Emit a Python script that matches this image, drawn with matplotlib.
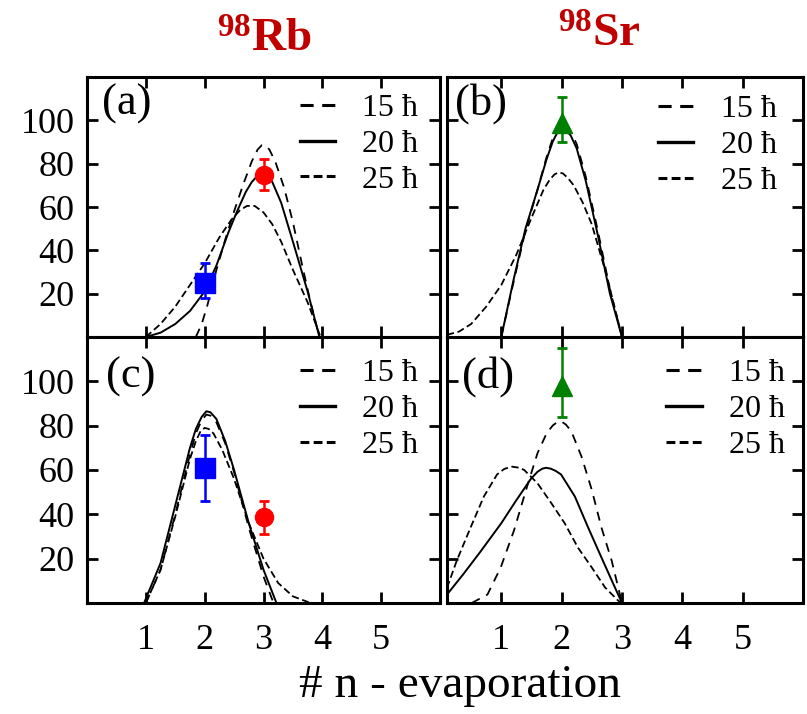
import matplotlib.pyplot as plt
from matplotlib.lines import Line2D

plt.rcParams['font.family'] = ['Liberation Serif', 'DejaVu Serif']
plt.rcParams['mathtext.fontset'] = 'custom'
plt.rcParams['mathtext.rm'] = 'Liberation Serif'
plt.rcParams['mathtext.bf'] = 'Liberation Serif:bold'

spin_labels = ['15 ħ', '20 ħ', '25 ħ']
xticks = [1, 2, 3, 4, 5]
yticks = [20, 40, 60, 80, 100]

# (a) 98Rb, upper row
a15_x = [1.85, 1.95, 2.05, 2.2, 2.35, 2.5, 2.65, 2.8, 2.9, 2.97, 3.03, 3.1, 3.2, 3.35, 3.5, 3.65, 3.8, 3.95]
a15_y = [0, 6, 15, 31, 45, 58, 70, 81, 86.5, 88.5, 88.5, 86.5, 81, 69, 53, 34, 16, 0]
a20_x = [1.0, 1.25, 1.5, 1.75, 2.0, 2.2, 2.4, 2.55, 2.7, 2.8, 2.9, 2.97, 3.05, 3.15, 3.3, 3.5, 3.75, 3.95]
a20_y = [0, 2, 6, 12, 21, 33, 48, 58, 67, 71.5, 74.5, 75.5, 75, 71.5, 62, 44, 21, 0]
a25_x = [1.0, 1.25, 1.5, 1.75, 2.0, 2.25, 2.45, 2.6, 2.72, 2.85, 3.0, 3.15, 3.3, 3.5, 3.75, 3.97]
a25_y = [0, 6, 14, 24, 34, 46, 54, 58.5, 60.5, 60.5, 57.5, 52, 44, 31, 16, 0]

# (b) 98Sr, upper row
b15_x = [1.0, 1.2, 1.4, 1.6, 1.75, 1.85, 1.93, 2.0, 2.07, 2.15, 2.25, 2.4, 2.6, 2.8, 3.0]
b15_y = [0, 25, 49, 68, 83, 91.5, 96.5, 98, 97.5, 95, 89, 74, 49, 22, 0]
b20_x = [1.0, 1.2, 1.4, 1.6, 1.75, 1.85, 1.93, 2.0, 2.07, 2.15, 2.25, 2.4, 2.6, 2.8, 3.0]
b20_y = [0, 26, 50, 68, 82, 90, 94.5, 96, 95.5, 93, 87, 72, 47, 20, 0]
b25_x = [0.1, 0.3, 0.5, 0.75, 1.0, 1.25, 1.5, 1.7, 1.8, 1.88, 1.95, 2.02, 2.1, 2.2, 2.35, 2.5, 2.75, 3.0]
b25_y = [1, 2.5, 6, 14, 24, 38, 55, 68, 72.5, 75, 76, 75.5, 73.5, 70, 62, 52, 28, 0]

# (c) 98Rb, lower row
c15_x = [1.0, 1.25, 1.5, 1.75, 1.85, 1.95, 2.03, 2.1, 2.2, 2.35, 2.5, 2.75, 3.0, 3.17]
c15_y = [0, 15, 40, 67, 76.5, 82.5, 85, 84.5, 81.5, 72, 59, 34, 12, 0]
c20_x = [0.97, 1.25, 1.5, 1.75, 1.85, 1.95, 2.03, 2.1, 2.2, 2.35, 2.5, 2.75, 3.0, 3.22]
c20_y = [0, 18, 44, 70, 78.5, 84, 86.5, 86, 83, 73, 60, 36, 15, 0]
c25_x = [1.0, 1.25, 1.5, 1.75, 1.85, 1.93, 2.0, 2.07, 2.15, 2.3, 2.5, 2.75, 3.0, 3.25, 3.5, 3.8]
c25_y = [0, 15, 39, 65, 73, 77.5, 79, 78.5, 76.5, 69, 56, 36, 20, 9, 3, 0]

# (d) 98Sr, lower row
d15_x = [0.51, 0.77, 0.99, 1.21, 1.41, 1.6, 1.75, 1.85, 1.93, 1.99, 2.07, 2.16, 2.33, 2.5, 2.66, 2.83, 3.0]
d15_y = [0, 3.8, 16, 32.7, 51, 67.6, 76.5, 80, 81.7, 82, 80.5, 77.5, 66, 51, 34, 19, 0]
d20_x = [0.1, 0.37, 0.65, 1.0, 1.24, 1.49, 1.6, 1.68, 1.74, 1.82, 1.9, 1.99, 2.22, 2.44, 2.66, 2.86, 3.0]
d20_y = [3.8, 13, 23, 36, 46, 56, 59.2, 60.6, 61, 60.6, 59.6, 58, 48, 34, 20.5, 8.4, 0]
d25_x = [0.1, 0.26, 0.49, 0.71, 0.93, 1.05, 1.18, 1.3, 1.38, 1.6, 1.83, 2.05, 2.27, 2.5, 2.72, 2.94, 3.0]
d25_y = [6.8, 19, 34, 48, 58, 60.5, 61.5, 61, 60, 54, 45, 36, 25, 16, 7, 1, 0]

# measured yields: x, y, lower err, upper err
a_sq = [2, 25, 7, 9]
a_ci = [3, 75, 7, 7]
c_sq = [2, 61, 15, 15]
c_ci = [3, 39, 8, 7]
b_tri = [2, 99, 9, 12]
d_tri = [2, 98, 14, 17]

W, H = 807, 714
fig = plt.figure(figsize=(W / 100, H / 100), dpi=100)

def box(l, t, r, b):
    return [l / W, 1 - b / H, (r - l) / W, (b - t) / H]

ax_a = fig.add_axes(box(87, 77, 440, 337))
ax_b = fig.add_axes(box(447, 77, 803, 337))
ax_c = fig.add_axes(box(87, 337, 440, 603))
ax_d = fig.add_axes(box(447, 337, 803, 603))

style15 = dict(color='black', lw=1.3, linestyle=(0, (5, 4)))
style20 = dict(color='black', lw=1.4, linestyle='-')
style25 = dict(color='black', lw=1.3, linestyle=(0, (4, 2)))

def setup(ax, xmin, bottom_labels, left_labels):
    ax.set_xlim(xmin, 6)
    ax.set_ylim(0, 120)
    ax.set_xticks(xticks)
    ax.set_yticks(yticks)
    ax.tick_params(direction='in', length=8, width=2, top=True, right=True,
                   labelsize=26, pad=15)
    ax.tick_params(axis='y', pad=9)
    if not bottom_labels:
        ax.set_xticklabels([])
    if not left_labels:
        ax.set_yticklabels([])
    for s in ax.spines.values():
        s.set_linewidth(2.2)

def curves(ax, x15, y15, x20, y20, x25, y25):
    ax.plot(x25, y25, **style25)
    ax.plot(x20, y20, **style20)
    ax.plot(x15, y15, **style15)

def point(ax, p, marker, color, ms):
    ax.errorbar([p[0]], [p[1]], yerr=[[p[2]], [p[3]]], fmt=marker, color=color,
                ms=ms, elinewidth=1.8, capsize=3.5, capthick=2, zorder=5)

def legend(ax, anchor):
    handles = [Line2D([], [], color='black', lw=2.2, linestyle=(0, (4.3, 2.8))),
               Line2D([], [], color='black', lw=2.4, linestyle='-'),
               Line2D([], [], color='black', lw=2.2, linestyle=(0, (2.9, 1.4)))]
    ax.legend(handles, spin_labels, loc='upper right', bbox_to_anchor=anchor,
              frameon=False, fontsize=23, handlelength=1.1, handletextpad=0.85,
              labelspacing=0.2, borderaxespad=0)

setup(ax_a, 0, False, True)
curves(ax_a, a15_x, a15_y, a20_x, a20_y, a25_x, a25_y)
point(ax_a, a_sq, 's', 'blue', 15)
point(ax_a, a_ci, 'o', 'red', 13)
legend(ax_a, (0.975, 0.985))
ax_a.text(0.043, 0.975, '(a)', transform=ax_a.transAxes, fontsize=32, va='top')

setup(ax_b, 0.1, False, False)
curves(ax_b, b15_x, b15_y, b20_x, b20_y, b25_x, b25_y)
point(ax_b, b_tri, '^', 'green', 15)
legend(ax_b, (0.962, 0.98))
ax_b.text(0.022, 0.975, '(b)', transform=ax_b.transAxes, fontsize=32, va='top')

setup(ax_c, 0, True, True)
curves(ax_c, c15_x, c15_y, c20_x, c20_y, c25_x, c25_y)
point(ax_c, c_sq, 's', 'blue', 15)
point(ax_c, c_ci, 'o', 'red', 13)
legend(ax_c, (0.975, 0.965))
ax_c.text(0.054, 0.925, '(c)', transform=ax_c.transAxes, fontsize=32, va='top')

setup(ax_d, 0.1, True, False)
curves(ax_d, d15_x, d15_y, d20_x, d20_y, d25_x, d25_y)
point(ax_d, d_tri, '^', 'green', 15)
legend(ax_d, (0.985, 0.965))
ax_d.text(0.041, 0.93, '(d)', transform=ax_d.transAxes, fontsize=32, va='top')

title_color = '#c00000'
fig.text(264 / W, 1 - 52 / H, r'$\mathbf{^{98}Rb}$', color=title_color,
         fontsize=34, ha='center', va='baseline')
fig.text(599 / W, 1 - 47 / H, r'$\mathbf{^{98}Sr}$', color=title_color,
         fontsize=34, ha='center', va='baseline')

fig.text(460 / W, 1 - 686 / H, '# n - evaporation', fontsize=34,
         ha='center', va='center')

fig.savefig('out.png', dpi=100)
